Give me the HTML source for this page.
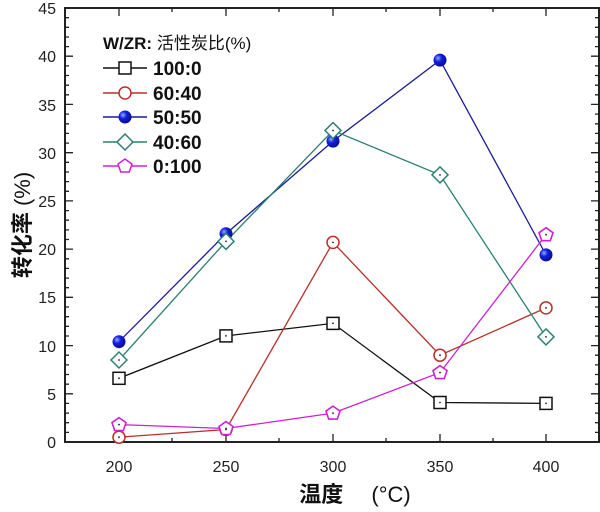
<!DOCTYPE html>
<html><head><meta charset="utf-8"><style>
body{margin:0;background:#fff}
svg text{font-family:"Liberation Sans","Noto Sans CJK SC",sans-serif}
</style></head><body>
<svg width="600" height="507" viewBox="0 0 600 507" xmlns="http://www.w3.org/2000/svg">
<defs>
<radialGradient id="bg" cx="0.35" cy="0.35" r="0.7"><stop offset="0" stop-color="#9aa8ff"/><stop offset="0.4" stop-color="#1020e0"/><stop offset="1" stop-color="#0a0a90"/></radialGradient>
</defs>
<g stroke="#222" stroke-width="1.3" fill="none">
<rect x="65" y="8" width="534" height="434" stroke-width="2"/>
<path d="M119,442v-8M226,442v-8M333,442v-8M440,442v-8M546,442v-8M119,8v8M226,8v8M333,8v8M440,8v8M546,8v8"/>
<path d="M172,442v-4M279,442v-4M386,442v-4M493,442v-4M172,8v4M279,8v4M386,8v4M493,8v4"/>
<path d="M65,442h8M65,393.8h8M65,345.6h8M65,297.3h8M65,249.1h8M65,200.9h8M65,152.7h8M65,104.4h8M65,56.2h8M65,8h8M599,442h-8M599,393.8h-8M599,345.6h-8M599,297.3h-8M599,249.1h-8M599,200.9h-8M599,152.7h-8M599,104.4h-8M599,56.2h-8M599,8h-8"/>
<path d="M65,432.4h4M65,422.7h4M65,413.1h4M65,403.4h4M65,384.2h4M65,374.5h4M65,364.9h4M65,355.2h4M65,336h4M65,326.3h4M65,316.7h4M65,307h4M65,287.7h4M65,278.1h4M65,268.4h4M65,258.8h4M65,239.5h4M65,229.9h4M65,220.2h4M65,210.6h4M65,191.3h4M65,181.6h4M65,172h4M65,162.3h4M65,143.1h4M65,133.4h4M65,123.8h4M65,114.1h4M65,94.8h4M65,85.2h4M65,75.5h4M65,65.9h4M65,46.6h4M65,37h4M65,27.3h4M65,17.7h4
M599,432.4h-4M599,422.7h-4M599,413.1h-4M599,403.4h-4M599,384.2h-4M599,374.5h-4M599,364.9h-4M599,355.2h-4M599,336h-4M599,326.3h-4M599,316.7h-4M599,307h-4M599,287.7h-4M599,278.1h-4M599,268.4h-4M599,258.8h-4M599,239.5h-4M599,229.9h-4M599,220.2h-4M599,210.6h-4M599,191.3h-4M599,181.6h-4M599,172h-4M599,162.3h-4M599,143.1h-4M599,133.4h-4M599,123.8h-4M599,114.1h-4M599,94.8h-4M599,85.2h-4M599,75.5h-4M599,65.9h-4M599,46.6h-4M599,37h-4M599,27.3h-4M599,17.7h-4"/>
</g>
<g font-size="16" fill="#222" text-anchor="end">
<text x="56" y="448">0</text><text x="56" y="400">5</text><text x="56" y="352">10</text><text x="56" y="303">15</text><text x="56" y="255">20</text><text x="56" y="207">25</text><text x="56" y="159">30</text><text x="56" y="111">35</text><text x="56" y="62">40</text><text x="56" y="14">45</text>
</g>
<g font-size="16" fill="#222" text-anchor="middle">
<text x="119" y="472">200</text><text x="226" y="472">250</text><text x="333" y="472">300</text><text x="440" y="472">350</text><text x="546" y="472">400</text>
</g>
<text x="355" y="502" font-size="22" font-weight="bold" text-anchor="middle" fill="#111">温度 <tspan font-weight="normal">　(°C)</tspan></text>
<text transform="translate(30,225) rotate(-90)" font-size="22" font-weight="bold" text-anchor="middle" fill="#111">转化率 <tspan font-weight="normal">(%)</tspan></text>

<polyline fill="none" stroke="#111" stroke-width="1.3" points="119,378.3 226,335.9 333,323.4 440,402.5 546,403.4"/>
<polyline fill="none" stroke="#b83028" stroke-width="1.3" points="119,437.2 226,429.5 333,242.4 440,355.2 546,307.9"/>
<polyline fill="none" stroke="#1a1a9a" stroke-width="1.3" points="119,341.7 226,233.7 333,141.1 440,60.1 546,254.9"/>
<polyline fill="none" stroke="#2a8070" stroke-width="1.3" points="119,360 226,241.4 333,130.5 440,174.9 546,336.9"/>
<polyline fill="none" stroke="#d020d0" stroke-width="1.3" points="119,424.6 226,428.5 333,413.1 440,372.6 546,234.7"/>

<g fill="#fff" stroke="#111" stroke-width="1.5">
<rect x="113" y="372.3" width="12" height="12"/><rect x="220" y="329.9" width="12" height="12"/><rect x="327" y="317.4" width="12" height="12"/><rect x="434" y="396.5" width="12" height="12"/><rect x="540" y="397.4" width="12" height="12"/>
</g>
<g fill="#fff" stroke="#b83028" stroke-width="1.5">
<circle cx="119" cy="437.2" r="6"/><circle cx="226" cy="429.5" r="6"/><circle cx="333" cy="242.4" r="6"/><circle cx="440" cy="355.2" r="6"/><circle cx="546" cy="307.9" r="6"/>
</g>
<g fill="url(#bg)">
<circle cx="119" cy="341.7" r="6.5"/><circle cx="226" cy="233.7" r="6.5"/><circle cx="333" cy="141.1" r="6.5"/><circle cx="440" cy="60.1" r="6.5"/><circle cx="546" cy="254.9" r="6.5"/>
</g>
<g fill="#fff" stroke="#2a8070" stroke-width="1.5">
<path d="M119,352l8,8l-8,8l-8,-8z"/><path d="M226,233.4l8,8l-8,8l-8,-8z"/><path d="M333,122.5l8,8l-8,8l-8,-8z"/><path d="M440,166.9l8,8l-8,8l-8,-8z"/><path d="M546,328.9l8,8l-8,8l-8,-8z"/>
</g>
<g fill="#fff" stroke="#d020d0" stroke-width="1.6">
<path d="M119,417.6l7,5l-2.7,8h-8.6l-2.7,-8z"/><path d="M226,421.5l7,5l-2.7,8h-8.6l-2.7,-8z"/><path d="M333,406.1l7,5l-2.7,8h-8.6l-2.7,-8z"/><path d="M440,365.6l7,5l-2.7,8h-8.6l-2.7,-8z"/><path d="M546,227.7l7,5l-2.7,8h-8.6l-2.7,-8z"/>
</g>
<g fill="#222">
<circle cx="119" cy="378.3" r="0.9"/><circle cx="226" cy="335.9" r="0.9"/><circle cx="333" cy="323.4" r="0.9"/><circle cx="440" cy="402.5" r="0.9"/><circle cx="546" cy="403.4" r="0.9"/>
<circle cx="119" cy="437.2" r="0.9"/><circle cx="226" cy="429.5" r="0.9"/><circle cx="333" cy="242.4" r="0.9"/><circle cx="440" cy="355.2" r="0.9"/><circle cx="546" cy="307.9" r="0.9"/>
<circle cx="119" cy="360" r="0.9"/><circle cx="226" cy="241.4" r="0.9"/><circle cx="333" cy="130.5" r="0.9"/><circle cx="440" cy="174.9" r="0.9"/><circle cx="546" cy="336.9" r="0.9"/>
<circle cx="119" cy="424.6" r="0.9"/><circle cx="226" cy="428.5" r="0.9"/><circle cx="333" cy="413.1" r="0.9"/><circle cx="440" cy="372.6" r="0.9"/><circle cx="546" cy="234.7" r="0.9"/>
</g>

<text x="103" y="49" font-size="17" font-weight="bold" fill="#111">W/ZR: <tspan font-weight="normal">活性炭比(%)</tspan></text>
<g stroke-width="1.5" font-size="19" font-weight="bold">
<line x1="103" y1="68" x2="147" y2="68" stroke="#111"/><rect x="119" y="62" width="12" height="12" fill="#fff" stroke="#111"/>
<text x="153" y="75" fill="#111" stroke="none">100:0</text>
<line x1="103" y1="93" x2="147" y2="93" stroke="#b83028"/><circle cx="125" cy="93" r="6" fill="#fff" stroke="#b83028"/>
<text x="153" y="100" fill="#111" stroke="none">60:40</text>
<line x1="103" y1="117" x2="147" y2="117" stroke="#1a1a9a"/><circle cx="125" cy="117" r="6.5" fill="url(#bg)" stroke="none"/>
<text x="153" y="124" fill="#111" stroke="none">50:50</text>
<line x1="103" y1="142" x2="147" y2="142" stroke="#2a8070"/><path d="M125,134l8,8l-8,8l-8,-8z" fill="#fff" stroke="#2a8070"/>
<text x="153" y="149" fill="#111" stroke="none">40:60</text>
<line x1="103" y1="166" x2="147" y2="166" stroke="#d020d0"/><path d="M125,159l7,5l-2.7,8h-8.6l-2.7,-8z" fill="#fff" stroke="#d020d0"/>
<text x="153" y="173" fill="#111" stroke="none">0:100</text>
</g>
</svg>
</body></html>
